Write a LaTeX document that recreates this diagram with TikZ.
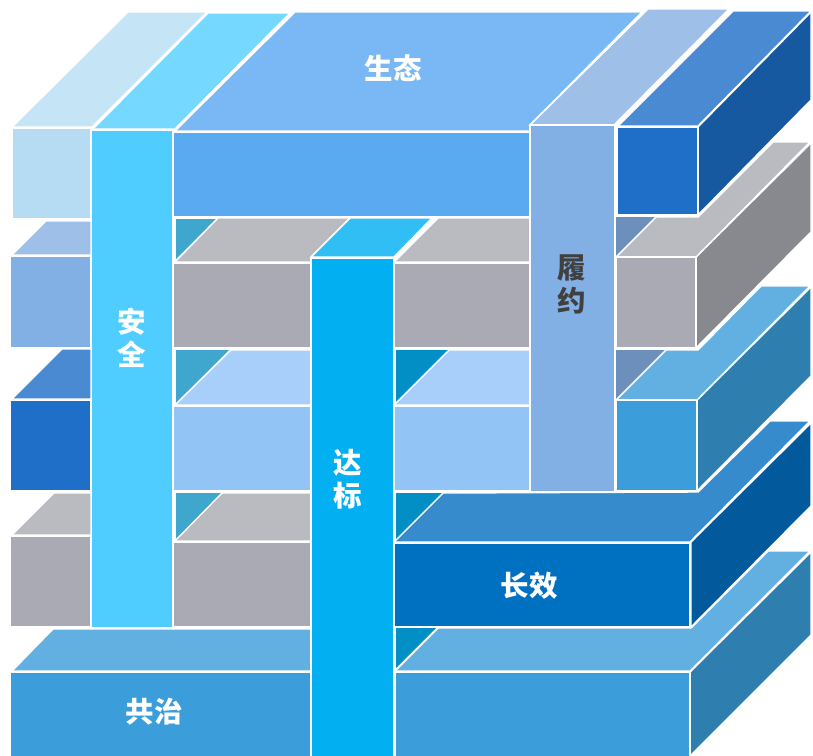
\documentclass[tikz,border=0pt]{standalone}
\usepackage{fontspec}
\newfontfamily\cjk{Noto Sans CJK SC Black}
\definecolor{palefront}{HTML}{B5DCF2}
\definecolor{paletop}{HTML}{C5E4F5}
\definecolor{anfront}{HTML}{4FCDFF}
\definecolor{antop}{HTML}{75D8FF}
\definecolor{stfront}{HTML}{5AAAF2}
\definecolor{sttop}{HTML}{7AB8F5}
\definecolor{lyfront}{HTML}{82B0E4}
\definecolor{lytop}{HTML}{9DBFE8}
\definecolor{dbfront}{HTML}{1F6FC9}
\definecolor{dbtop}{HTML}{4A8AD2}
\definecolor{dbside}{HTML}{1759A1}
\definecolor{gyfront}{HTML}{A9AAB3}
\definecolor{gytop}{HTML}{BABBC0}
\definecolor{gyside}{HTML}{88898E}
\definecolor{skfront}{HTML}{3B9DD9}
\definecolor{sktop}{HTML}{61B0E1}
\definecolor{skside}{HTML}{2E7FB0}
\definecolor{cxfront}{HTML}{0070C0}
\definecolor{cxtop}{HTML}{358BCC}
\definecolor{cxside}{HTML}{025A9D}
\definecolor{dbcfront}{HTML}{02B0F2}
\definecolor{dbctop}{HTML}{31BEF5}
\definecolor{ltfront}{HTML}{92C5F6}
\definecolor{lttop}{HTML}{A7CFF9}
\definecolor{tritealA}{HTML}{3FA6CE}
\definecolor{tritealB}{HTML}{028FC5}
\definecolor{trislate}{HTML}{6C90BB}
\definecolor{darktext}{HTML}{404040}
\tikzset{
  face/.style={fill=#1,draw=white,line width=1.4pt,line join=miter},
  tri/.style={fill=#1,draw=none},
  label/.style={text=white,font=\cjk\fontsize{28.5}{33}\selectfont,align=center,inner sep=0pt}
}
\begin{document}
\begin{tikzpicture}[x=1pt,y=-1pt]
\useasboundingbox (0,0) rectangle (813,755);
% small triangles in the gaps
\fill[tri=tritealA] (176,219)--(216,219)--(176,259)--cycle;
\fill[tri=tritealA] (176,350)--(229,350)--(176,403)--cycle;
\fill[tri=tritealA] (176,493)--(222,493)--(176,539)--cycle;
\fill[tri=tritealB] (396,350)--(448,350)--(396,402)--cycle;
\fill[tri=tritealB] (396,493)--(443,493)--(396,540)--cycle;
\fill[tri=tritealB] (396,628)--(436,628)--(396,668)--cycle;
\fill[tri=trislate] (616,217)--(655,217)--(616,256)--cycle;
\fill[tri=trislate] (616,350)--(665,350)--(616,399)--cycle;
% left stubs
\draw[face=palefront] (12,128) rectangle (91,219);
\draw[face=paletop] (12,127)--(128,12)--(207,12)--(92,127)--cycle;
\draw[face=lyfront] (10.5,256) rectangle (91,348);
\draw[face=lytop] (12,255)--(46,221)--(91,221)--(91,255)--cycle;
\draw[face=dbfront] (10.5,400) rectangle (91,491);
\draw[face=dbtop] (12,399)--(62,349)--(91,349)--(91,399)--cycle;
\draw[face=gyfront] (10.5,536) rectangle (91,627);
\draw[face=gytop] (12,535)--(54,493)--(91,493)--(91,535)--cycle;
% right blocks
\draw[face=dbside] (698,127)--(811,12)--(811,100)--(698,215)--cycle;
\draw[face=dbtop] (618,126)--(733,11)--(811,11)--(698,126)--cycle;
\draw[face=dbfront] (617.5,127) rectangle (698,215);
\draw[face=gyside] (696,257)--(811,143)--(811,232)--(696,348)--cycle;
\draw[face=gytop] (616,257)--(656,217)--(698,217)--(773,142)--(810,142)--(696,257)--cycle;
\draw[face=gyfront] (616,257) rectangle (696,348);
\draw[face=skside] (697,400)--(811,287)--(811,376)--(697,491)--cycle;
\draw[face=sktop] (616,400)--(666,350)--(698,350)--(761,286)--(810,286)--(697,400)--cycle;
\draw[face=skfront] (616,400) rectangle (697,491);
% middle rows
\draw[face=gytop] (175,262)--(218,218)--(350,218)--(311,257)--(311,262)--cycle;
\draw[face=gyfront] (172.5,263) rectangle (311,348);
\draw[face=gytop] (394,262)--(438,218)--(530,218)--(530,262)--cycle;
\draw[face=gyfront] (393.5,263) rectangle (530,348);
\draw[face=lttop] (175,405)--(231,350)--(311,350)--(311,405)--cycle;
\draw[face=ltfront] (172.5,406) rectangle (311,491);
\draw[face=lttop] (394,405)--(449,350)--(530,350)--(530,405)--cycle;
\draw[face=ltfront] (393.5,406) rectangle (530,491);
\draw[face=gytop] (175,541)--(222,493)--(311,493)--(311,541)--cycle;
\draw[face=gyfront] (172.5,542) rectangle (311,627);
% bottom slabs
\draw[face=sktop] (12,671)--(53,629)--(311,629)--(311,671)--cycle;
\draw[face=skfront] (10,672) rectangle (311,760);
\draw[face=skside] (690,672)--(811,552)--(811,635)--(690,756)--cycle;
\draw[face=sktop] (395,671)--(438,628)--(691,628)--(768,551)--(810,551)--(690,671)--cycle;
\draw[face=skfront] (395.5,672) rectangle (690,760);
% chang xiao
\draw[face=cxside] (691,542)--(811,423)--(811,506)--(691,627)--cycle;
\draw[face=cxtop] (394,542)--(443,493)--(698,492)--(770,421)--(810,421)--(690,542)--cycle;
\draw[face=cxfront] (393.5,543) rectangle (690,627);
% sheng tai
\draw[face=sttop] (175,131)--(295,12)--(642,12)--(530,125)--(530,131)--cycle;
\draw[face=stfront] (172.5,132) rectangle (530,217);
% vertical columns
\draw[face=antop] (93,129)--(208,13)--(290,13)--(175,129)--cycle;
\draw[face=anfront] (91.5,130) rectangle (173,628);
\draw[face=dbctop] (311,257)--(350,218)--(432,218)--(394,257)--cycle;
\draw[face=dbcfront] (311,258) rectangle (394,760);
\draw[face=lytop] (530,125)--(648,9)--(729,9)--(614,125)--cycle;
\draw[face=lyfront] (530,125) rectangle (614.5,492);
% labels
\node[label] (an) at (132,338) {安\\全};
\node[label] (da) at (348,479) {达\\标};
\node[label,text=darktext] (lv) at (571.5,284) {履\\约};
\node[label] (st) at (393,68) {生态};
\node[label] (gz) at (154,712) {共治};
\node[label] (cx) at (529,586) {长效};
\end{tikzpicture}
\end{document}
